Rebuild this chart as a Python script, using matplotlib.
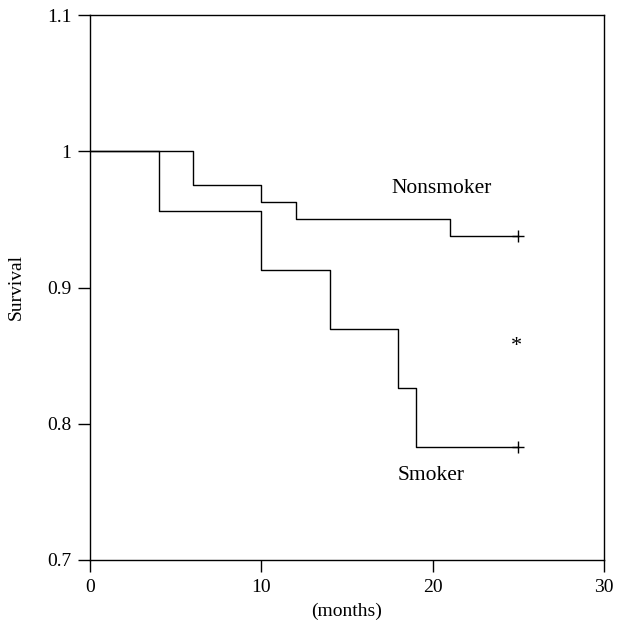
import matplotlib
matplotlib.use("Agg")
import matplotlib.pyplot as plt

plt.rcParams['font.family'] = ['Liberation Serif', 'DejaVu Serif']

# Kaplan-Meier steps (months, survival)
nonsmoker_t = [0, 6, 10, 12, 21, 25]
nonsmoker_s = [1.0, 0.975, 0.9625, 0.95, 0.9375, 0.9375]
smoker_t = [0, 4, 10, 14, 18, 19, 25]
smoker_s = [1.0, 0.9565, 0.913, 0.8696, 0.826, 0.7826, 0.7826]

xticks = [0, 10, 20, 30]
yticks = [0.7, 0.8, 0.9, 1.0, 1.1]
yticklabels = ["0.7", "0.8", "0.9", "1", "1.1"]

fig = plt.figure(figsize=(6.19, 6.34), dpi=100)
ax = fig.add_axes([90 / 619, (634 - 560) / 634, (604 - 90) / 619, (560 - 15) / 634])

ax.step(nonsmoker_t, nonsmoker_s, where='post', color='black', lw=1.0)
ax.step(smoker_t, smoker_s, where='post', color='black', lw=1.0)
# censor marks
ax.plot(nonsmoker_t[-1], nonsmoker_s[-1], marker='+', color='black', ms=9, mew=1.0)
ax.plot(smoker_t[-1], smoker_s[-1], marker='+', color='black', ms=9, mew=1.0)

ax.text(20.5, 0.973, "Nonsmoker", ha='center', va='center', fontsize=15.5)
ax.text(19.9, 0.762, "Smoker", ha='center', va='center', fontsize=15.5)
ax.text(24.9, 0.857, "*", ha='center', va='center', fontsize=16)

ax.set_xlim(0, 30)
ax.set_ylim(0.7, 1.1)
ax.set_xticks(xticks)
ax.set_yticks(yticks)
ax.set_yticklabels(yticklabels)
ax.tick_params(direction='out', length=8.5, width=1.0, labelsize=14, pad=5)
for sp in ax.spines.values():
    sp.set_linewidth(1.0)

ax.set_xlabel("(months)", fontsize=14, labelpad=5)
ax.set_ylabel("Survival", fontsize=14, labelpad=16)

fig.savefig("out.png", dpi=100)
